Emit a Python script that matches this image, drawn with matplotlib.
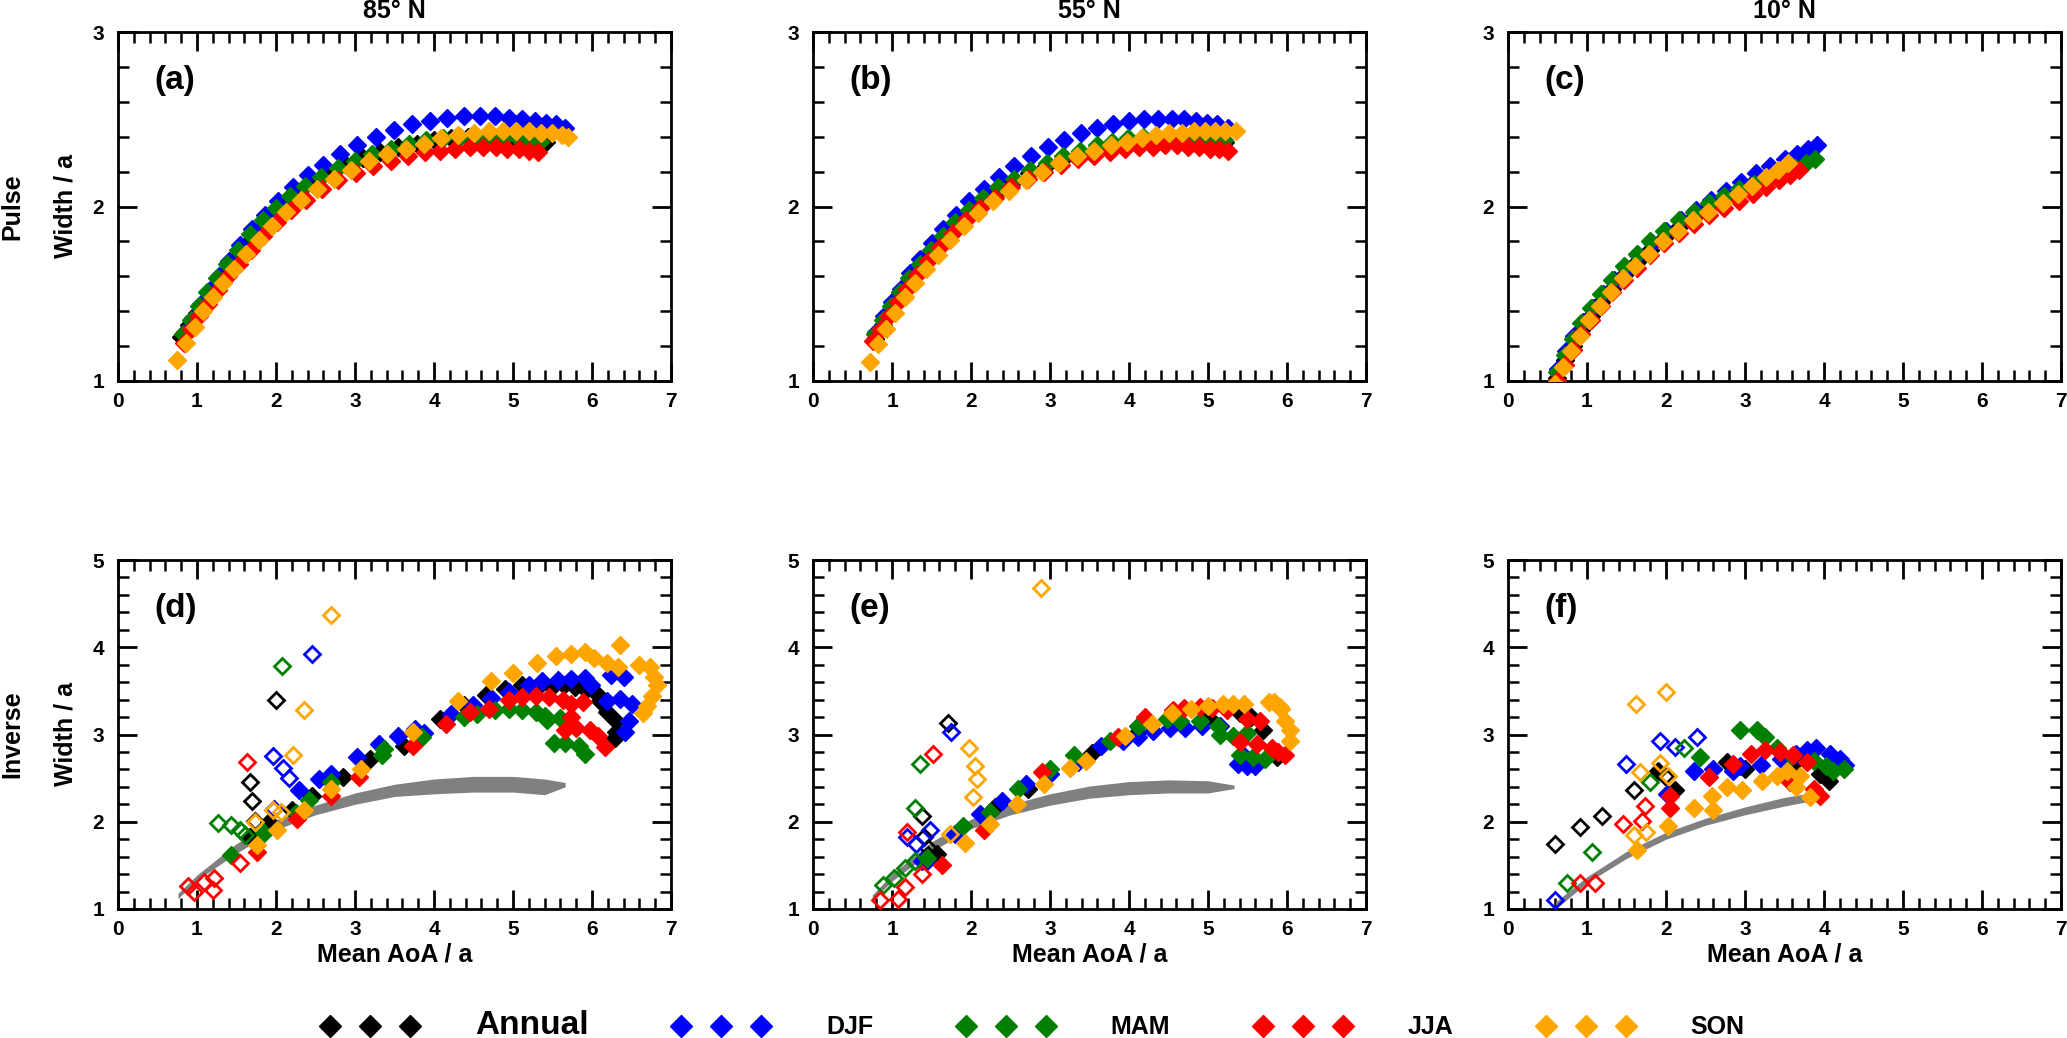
import matplotlib
matplotlib.use("Agg")
import matplotlib.pyplot as plt
from matplotlib.ticker import MultipleLocator
from matplotlib.lines import Line2D

plt.rcParams['font.family'] = ['Liberation Sans', 'DejaVu Sans']
plt.rcParams['font.weight'] = 'bold'

seasons = ['Annual', 'DJF', 'MAM', 'JJA', 'SON']
colors = ['black', '#0000ff', '#008000', '#ff0000', '#ffa500']
titles = ['85° N', '55° N', '10° N']
panel_labels = ['(a)', '(b)', '(c)', '(d)', '(e)', '(f)']
row_labels = ['Pulse', 'Inverse']
xticks = [0, 1, 2, 3, 4, 5, 6, 7]

# ---------------- Pulse, 85N (a) ----------------
a_ann_x = [0.80,0.90,1.00,1.10,1.22,1.35,1.48,1.62,1.77,1.93,2.10,2.28,2.47,2.67,2.88,3.10,3.32,3.55,3.78,4.00,4.22,4.43,4.63,4.82,5.00,5.16,5.30,5.42]
a_ann_y = [1.25,1.32,1.39,1.46,1.54,1.62,1.70,1.78,1.86,1.94,2.01,2.08,2.14,2.19,2.24,2.28,2.31,2.34,2.36,2.38,2.39,2.40,2.40,2.40,2.40,2.39,2.38,2.37]
a_djf_x = [0.85,0.95,1.05,1.16,1.28,1.41,1.55,1.70,1.86,2.03,2.21,2.40,2.60,2.81,3.03,3.26,3.49,3.72,3.95,4.17,4.38,4.58,4.77,4.95,5.12,5.28,5.42,5.55,5.66]
a_djf_y = [1.28,1.36,1.44,1.52,1.60,1.69,1.78,1.87,1.95,2.03,2.11,2.18,2.24,2.30,2.35,2.40,2.44,2.47,2.49,2.51,2.52,2.52,2.52,2.51,2.50,2.49,2.48,2.47,2.45]
a_mam_x = [0.82,0.92,1.02,1.13,1.25,1.38,1.52,1.67,1.83,2.00,2.18,2.37,2.57,2.78,3.00,3.22,3.45,3.68,3.90,4.12,4.33,4.53,4.72,4.90,5.06,5.21,5.34]
a_mam_y = [1.27,1.35,1.43,1.51,1.59,1.67,1.75,1.84,1.92,1.99,2.06,2.12,2.17,2.22,2.26,2.30,2.33,2.36,2.38,2.39,2.40,2.40,2.40,2.40,2.39,2.38,2.37]
a_jja_x = [0.83,0.93,1.03,1.14,1.26,1.39,1.53,1.68,1.84,2.01,2.19,2.38,2.58,2.79,3.01,3.23,3.45,3.67,3.88,4.08,4.27,4.45,4.62,4.78,4.93,5.07,5.20,5.32]
a_jja_y = [1.22,1.30,1.37,1.44,1.52,1.60,1.67,1.75,1.83,1.91,1.98,2.04,2.10,2.15,2.19,2.23,2.26,2.29,2.31,2.32,2.33,2.34,2.34,2.34,2.33,2.33,2.32,2.31]
a_son_x = [0.75,0.86,0.97,1.08,1.20,1.33,1.47,1.62,1.78,1.95,2.13,2.32,2.52,2.73,2.95,3.18,3.41,3.64,3.87,4.09,4.30,4.50,4.69,4.87,5.04,5.20,5.35,5.49,5.62,5.70]
a_son_y = [1.12,1.22,1.31,1.40,1.48,1.56,1.64,1.73,1.81,1.89,1.97,2.04,2.10,2.16,2.21,2.26,2.30,2.33,2.36,2.39,2.41,2.42,2.43,2.43,2.43,2.43,2.42,2.42,2.41,2.40]

# ---------------- Pulse, 55N (b) ----------------
b_ann_x = [0.78,0.88,0.98,1.09,1.21,1.34,1.48,1.63,1.79,1.96,2.14,2.33,2.53,2.74,2.95,3.16,3.37,3.58,3.78,3.98,4.17,4.35,4.52,4.68,4.83,4.97,5.10,5.22]
b_ann_y = [1.24,1.32,1.40,1.48,1.56,1.64,1.72,1.80,1.88,1.95,2.02,2.08,2.14,2.19,2.23,2.27,2.30,2.33,2.35,2.37,2.38,2.39,2.39,2.39,2.39,2.38,2.38,2.37]
b_djf_x = [0.80,0.90,1.00,1.11,1.23,1.36,1.50,1.65,1.81,1.98,2.16,2.35,2.55,2.76,2.97,3.18,3.39,3.60,3.80,4.00,4.19,4.37,4.54,4.70,4.85,4.99,5.12,5.25]
b_djf_y = [1.28,1.37,1.45,1.53,1.62,1.70,1.79,1.87,1.95,2.03,2.10,2.17,2.23,2.29,2.34,2.38,2.42,2.45,2.47,2.49,2.50,2.50,2.50,2.50,2.49,2.48,2.47,2.45]
b_mam_x = [0.79,0.89,0.99,1.10,1.22,1.35,1.49,1.64,1.80,1.97,2.15,2.34,2.54,2.75,2.96,3.17,3.38,3.59,3.79,3.99,4.18,4.36,4.53,4.69,4.84,4.98,5.10,5.20]
b_mam_y = [1.27,1.35,1.43,1.51,1.59,1.67,1.75,1.83,1.91,1.98,2.05,2.11,2.16,2.21,2.25,2.29,2.32,2.35,2.37,2.39,2.40,2.40,2.40,2.40,2.40,2.39,2.39,2.38]
b_jja_x = [0.76,0.86,0.96,1.07,1.19,1.32,1.46,1.61,1.77,1.94,2.12,2.31,2.51,2.72,2.93,3.14,3.35,3.56,3.76,3.95,4.13,4.30,4.46,4.61,4.75,4.89,5.02,5.14,5.25]
b_jja_y = [1.23,1.30,1.37,1.45,1.53,1.61,1.69,1.77,1.85,1.92,1.99,2.05,2.11,2.16,2.20,2.24,2.27,2.29,2.31,2.33,2.34,2.34,2.35,2.35,2.34,2.34,2.33,2.33,2.32]
b_son_x = [0.72,0.82,0.93,1.04,1.16,1.29,1.43,1.58,1.74,1.91,2.09,2.28,2.48,2.69,2.90,3.12,3.34,3.56,3.77,3.97,4.16,4.34,4.51,4.67,4.82,4.96,5.09,5.22,5.35]
b_son_y = [1.11,1.21,1.30,1.39,1.48,1.56,1.64,1.72,1.81,1.89,1.96,2.03,2.09,2.15,2.20,2.25,2.29,2.32,2.35,2.37,2.39,2.41,2.42,2.42,2.43,2.43,2.43,2.43,2.43]

# ---------------- Pulse, 10N (c) ----------------
c_ann_x = [0.62,0.72,0.82,0.93,1.05,1.18,1.32,1.47,1.63,1.80,1.98,2.17,2.36,2.55,2.74,2.93,3.12,3.30,3.47,3.62,3.75]
c_ann_y = [1.02,1.12,1.20,1.29,1.37,1.45,1.53,1.61,1.68,1.75,1.82,1.88,1.94,2.00,2.05,2.10,2.14,2.18,2.22,2.25,2.27]
c_djf_x = [0.63,0.73,0.84,0.95,1.07,1.20,1.34,1.49,1.65,1.82,2.00,2.19,2.38,2.57,2.76,2.95,3.14,3.32,3.50,3.66,3.80,3.91]
c_djf_y = [1.07,1.17,1.26,1.34,1.42,1.50,1.58,1.65,1.72,1.79,1.86,1.92,1.98,2.04,2.09,2.14,2.19,2.23,2.27,2.30,2.33,2.35]
c_mam_x = [0.62,0.72,0.82,0.93,1.05,1.18,1.32,1.47,1.63,1.80,1.98,2.17,2.36,2.55,2.74,2.93,3.12,3.30,3.47,3.63,3.77,3.89]
c_mam_y = [1.05,1.15,1.24,1.33,1.42,1.50,1.58,1.66,1.73,1.80,1.86,1.92,1.97,2.02,2.06,2.10,2.13,2.16,2.19,2.22,2.25,2.27]
c_jja_x = [0.62,0.72,0.82,0.93,1.05,1.18,1.32,1.47,1.63,1.80,1.98,2.17,2.36,2.55,2.74,2.92,3.10,3.27,3.43,3.57,3.68]
c_jja_y = [1.00,1.09,1.18,1.27,1.35,1.43,1.51,1.58,1.65,1.72,1.79,1.85,1.90,1.95,1.99,2.03,2.07,2.11,2.15,2.18,2.21]
c_son_x = [0.60,0.70,0.80,0.91,1.03,1.16,1.30,1.45,1.61,1.78,1.96,2.15,2.34,2.53,2.72,2.91,3.09,3.26,3.42,3.55]
c_son_y = [0.98,1.08,1.17,1.26,1.35,1.43,1.51,1.59,1.66,1.73,1.80,1.86,1.92,1.97,2.02,2.07,2.12,2.17,2.21,2.25]

# ---------------- grey envelope of pulse widths (shown in inverse panels) ----------------
d_band_x = [0.76,1.00,1.50,2.00,2.50,3.00,3.50,4.00,4.50,5.00,5.40,5.66]
d_band_hi = [1.18,1.39,1.75,2.02,2.19,2.33,2.43,2.49,2.52,2.52,2.49,2.45]
d_band_lo = [1.12,1.33,1.64,1.91,2.08,2.20,2.29,2.32,2.34,2.34,2.31,2.40]
e_band_x = [0.75,1.00,1.50,2.00,2.50,3.00,3.50,4.00,4.50,5.00,5.33]
e_band_hi = [1.16,1.40,1.77,2.03,2.20,2.32,2.41,2.46,2.48,2.47,2.42]
e_band_lo = [1.10,1.32,1.66,1.92,2.08,2.19,2.27,2.31,2.33,2.33,2.38]
f_band_x = [0.60,1.00,1.50,2.00,2.50,3.00,3.50,3.90]
f_band_hi = [1.08,1.37,1.66,1.88,2.04,2.17,2.28,2.34]
f_band_lo = [1.00,1.30,1.58,1.80,1.96,2.08,2.18,2.25]

# ---------------- Inverse, 85N (d): filled (f) and open (o) ----------------
d_ann_fx = [1.67,1.91,2.20,2.45,2.85,3.19,3.62,4.07,4.38,4.66,4.90,5.12,5.32,5.49,5.65,5.79,5.93,6.05,6.10,6.19,6.30,6.30,6.29]
d_ann_fy = [1.82,2.00,2.14,2.29,2.51,2.72,2.87,3.18,3.34,3.45,3.52,3.57,3.55,3.55,3.57,3.55,3.51,3.47,3.38,3.26,3.15,3.03,2.96]
d_ann_ox = [2.00,1.67,1.70,1.73]
d_ann_oy = [3.40,2.46,2.24,2.01]
d_djf_fx = [2.29,2.55,2.69,3.03,3.31,3.54,3.76,3.87,4.21,4.49,4.72,4.95,5.20,5.37,5.57,5.74,5.91,5.99,6.19,6.24,6.40,6.36,6.50,6.47,6.42]
d_djf_fy = [2.36,2.49,2.55,2.74,2.89,2.98,3.06,3.02,3.23,3.34,3.42,3.49,3.57,3.61,3.62,3.64,3.65,3.57,3.38,3.68,3.66,3.41,3.35,3.15,3.03]
d_djf_ox = [2.46,1.96,2.09,2.17,1.97]
d_djf_oy = [3.92,2.75,2.62,2.50,2.15]
d_mam_fx = [1.43,1.85,2.25,2.42,2.69,3.34,3.37,3.85,4.38,4.55,4.77,4.95,5.12,5.29,5.40,5.43,5.60,5.52,5.66,5.83,5.91]
d_mam_fy = [1.62,1.87,2.10,2.25,2.46,2.77,2.83,2.97,3.20,3.24,3.28,3.29,3.28,3.26,3.21,3.17,3.19,2.90,2.90,2.87,2.78]
d_mam_ox = [2.08,1.26,1.43,1.55,1.61]
d_mam_oy = [3.78,1.98,1.96,1.90,1.85]
d_jja_fx = [1.76,2.26,2.69,3.05,3.74,4.15,4.46,4.69,4.95,5.12,5.29,5.46,5.63,5.74,5.88,5.74,5.66,5.80,5.97,6.08,6.17]
d_jja_fy = [1.65,2.03,2.30,2.51,2.87,3.12,3.26,3.29,3.39,3.43,3.44,3.43,3.39,3.35,3.37,3.20,3.05,3.07,3.05,2.98,2.86]
d_jja_ox = [1.63,1.54,0.88,0.96,1.09,1.21,1.20]
d_jja_oy = [2.68,1.53,1.26,1.20,1.31,1.36,1.22]
d_son_fx = [1.76,2.01,2.35,2.69,3.08,3.73,4.30,4.72,5.00,5.31,5.54,5.74,5.91,6.02,6.19,6.35,6.33,6.59,6.73,6.79,6.82,6.76,6.70,6.64]
d_son_fy = [1.73,1.90,2.13,2.38,2.61,3.03,3.38,3.61,3.71,3.82,3.90,3.92,3.94,3.88,3.82,4.03,3.77,3.80,3.77,3.66,3.57,3.44,3.33,3.25]
d_son_ox = [2.69,2.35,2.21,1.73,1.96,2.06]
d_son_oy = [4.37,3.28,2.77,2.00,2.13,2.11]

# ---------------- Inverse, 55N (e) ----------------
e_ann_fx = [1.57,2.30,2.72,3.53,4.10,4.60,5.00,5.40,5.55,5.70,5.87]
e_ann_fy = [1.63,2.17,2.38,2.79,3.02,3.15,3.20,3.25,3.20,3.05,2.74]
e_ann_ox = [1.71,1.38,1.40,1.46,1.45]
e_ann_oy = [3.13,2.07,1.82,1.70,1.62]
e_djf_fx = [1.38,1.80,2.11,2.39,2.70,3.00,3.36,3.65,3.93,4.12,4.31,4.52,4.71,4.92,5.15,5.45,5.38,5.49,5.59]
e_djf_fy = [1.55,1.86,2.09,2.24,2.43,2.55,2.68,2.87,2.93,2.97,3.04,3.08,3.08,3.10,3.10,2.75,2.66,2.64,2.64]
e_djf_ox = [1.75,1.19,1.48,1.44,1.30]
e_djf_oy = [3.03,1.82,1.90,1.55,1.75]
e_mam_fx = [1.44,1.90,2.24,2.60,3.00,3.30,3.76,4.12,4.48,4.65,4.90,5.13,5.15,5.32,5.49,5.40,5.57,5.72]
e_mam_fy = [1.59,1.95,2.11,2.38,2.61,2.76,2.93,3.10,3.18,3.16,3.16,3.10,3.00,2.98,3.02,2.76,2.74,2.72]
e_mam_ox = [1.35,1.29,1.29,1.16,1.02,0.88]
e_mam_oy = [2.66,2.16,1.55,1.47,1.36,1.28]
e_jja_fx = [1.63,2.16,2.90,3.86,4.20,4.56,4.70,4.90,5.05,5.24,5.49,5.66,5.40,5.62,5.81,5.89,5.97]
e_jja_fy = [1.51,1.90,2.57,2.97,3.20,3.28,3.30,3.31,3.30,3.28,3.18,3.16,2.91,2.89,2.85,2.80,2.76]
e_jja_ox = [1.52,1.19,1.38,1.17,1.08,0.85]
e_jja_oy = [2.78,1.88,1.40,1.25,1.11,1.10]
e_son_fx = [1.92,2.24,2.58,2.92,3.25,3.46,3.95,4.29,4.54,4.79,5.00,5.19,5.32,5.45,5.77,5.83,5.92,5.91,5.97,6.04,6.04]
e_son_fy = [1.76,1.97,2.20,2.43,2.62,2.70,2.98,3.12,3.25,3.29,3.33,3.35,3.35,3.35,3.37,3.37,3.29,3.31,3.16,3.05,2.93]
e_son_ox = [2.88,1.98,2.05,2.08,2.03,1.73]
e_son_oy = [4.68,2.84,2.64,2.49,2.28,1.86]

# ---------------- Inverse, 10N (f) ----------------
f_ann_fx = [1.90,2.11,2.77,3.00,3.60,3.95,4.06]
f_ann_fy = [2.58,2.36,2.68,2.60,2.65,2.55,2.47]
f_ann_ox = [1.99,1.59,1.19,0.91,0.60]
f_ann_oy = [2.52,2.36,2.07,1.94,1.75]
f_djf_fx = [2.01,2.35,2.60,2.85,2.94,3.20,3.45,3.65,3.78,3.90,4.08,4.20,4.27]
f_djf_fy = [2.32,2.58,2.60,2.58,2.64,2.65,2.72,2.78,2.82,2.84,2.78,2.72,2.65]
f_djf_ox = [2.39,1.92,2.12,1.49,0.60]
f_djf_oy = [2.97,2.92,2.86,2.66,1.10]
f_mam_fx = [2.43,2.94,3.15,3.25,3.40,3.60,3.87,4.03,4.12,4.25]
f_mam_fy = [2.74,3.05,3.05,2.97,2.85,2.75,2.70,2.64,2.58,2.60]
f_mam_ox = [2.23,1.80,1.06,0.75]
f_mam_oy = [2.84,2.45,1.65,1.30]
f_jja_fx = [2.05,2.05,2.54,2.85,3.07,3.25,3.44,3.61,3.78,3.57,3.87,3.95]
f_jja_fy = [2.30,2.16,2.51,2.66,2.78,2.82,2.80,2.76,2.68,2.45,2.37,2.30]
f_jja_ox = [1.73,1.46,1.69,0.91,1.10]
f_jja_oy = [2.18,1.97,2.01,1.30,1.30]
f_son_fx = [1.63,2.03,2.35,2.60,2.58,2.77,2.96,3.21,3.40,3.53,3.70,3.65,3.82]
f_son_fy = [1.68,1.95,2.16,2.14,2.30,2.40,2.36,2.47,2.53,2.58,2.53,2.40,2.28]
f_son_ox = [2.00,1.62,1.93,1.67,2.03,1.59,1.75]
f_son_oy = [3.49,3.35,2.67,2.57,2.52,1.85,1.88]

pulse = [
    [(a_ann_x, a_ann_y), (a_djf_x, a_djf_y), (a_mam_x, a_mam_y), (a_jja_x, a_jja_y), (a_son_x, a_son_y)],
    [(b_ann_x, b_ann_y), (b_djf_x, b_djf_y), (b_mam_x, b_mam_y), (b_jja_x, b_jja_y), (b_son_x, b_son_y)],
    [(c_ann_x, c_ann_y), (c_djf_x, c_djf_y), (c_mam_x, c_mam_y), (c_jja_x, c_jja_y), (c_son_x, c_son_y)],
]
bands = [(d_band_x, d_band_lo, d_band_hi), (e_band_x, e_band_lo, e_band_hi), (f_band_x, f_band_lo, f_band_hi)]
inverse = [
    [(d_ann_fx, d_ann_fy, d_ann_ox, d_ann_oy), (d_djf_fx, d_djf_fy, d_djf_ox, d_djf_oy),
     (d_mam_fx, d_mam_fy, d_mam_ox, d_mam_oy), (d_jja_fx, d_jja_fy, d_jja_ox, d_jja_oy),
     (d_son_fx, d_son_fy, d_son_ox, d_son_oy)],
    [(e_ann_fx, e_ann_fy, e_ann_ox, e_ann_oy), (e_djf_fx, e_djf_fy, e_djf_ox, e_djf_oy),
     (e_mam_fx, e_mam_fy, e_mam_ox, e_mam_oy), (e_jja_fx, e_jja_fy, e_jja_ox, e_jja_oy),
     (e_son_fx, e_son_fy, e_son_ox, e_son_oy)],
    [(f_ann_fx, f_ann_fy, f_ann_ox, f_ann_oy), (f_djf_fx, f_djf_fy, f_djf_ox, f_djf_oy),
     (f_mam_fx, f_mam_fy, f_mam_ox, f_mam_oy), (f_jja_fx, f_jja_fy, f_jja_ox, f_jja_oy),
     (f_son_fx, f_son_fy, f_son_ox, f_son_oy)],
]

W, H = 2067, 1038
fig = plt.figure(figsize=(W / 100, H / 100), dpi=100)

col_left = [118, 813, 1508]
pw, ph = 553, 349
row_top = [32, 560]

MS_F = 9.3
MS_O = 8.6


def style_axis(ax, ymax):
    ax.set_xlim(0, 7)
    ax.set_ylim(1, ymax)
    ax.set_xticks(xticks)
    ax.set_yticks(list(range(1, ymax + 1)))
    ax.xaxis.set_minor_locator(MultipleLocator(0.2))
    ax.yaxis.set_minor_locator(MultipleLocator(0.2))
    ax.tick_params(which='both', direction='in', top=True, right=True, labelsize=15)
    ax.tick_params(axis='x', which='both', pad=8)
    ax.tick_params(axis='y', which='both', pad=10)
    ax.tick_params(which='major', length=13.5, width=2)
    ax.tick_params(which='minor', length=8, width=1.8)
    for sp in ax.spines.values():
        sp.set_linewidth(2)
    for lab in ax.get_xticklabels() + ax.get_yticklabels():
        lab.set_fontweight('bold')


axes = []
for r in range(2):
    for c in range(3):
        l = col_left[c] / W
        b = 1 - (row_top[r] + ph) / H
        ax = fig.add_axes([l, b, pw / W, ph / H])
        axes.append(ax)
        if r == 0:
            for s in range(5):
                x, y = pulse[c][s]
                ax.plot(x, y, linestyle='none', marker='D', ms=MS_F, mfc=colors[s],
                        mec=colors[s], mew=1.0, zorder=3 + s)
            style_axis(ax, 3)
            ax.set_title(titles[c], fontsize=18, fontweight='bold', pad=10)
        else:
            bx, blo, bhi = bands[c]
            ax.fill_between(bx, blo, bhi, color='#808080', linewidth=0, zorder=2)
            for s in range(5):
                fx, fy, ox, oy = inverse[c][s]
                ax.plot(ox, oy, linestyle='none', marker='D', ms=MS_O, mfc='none',
                        mec=colors[s], mew=2.0, zorder=3 + s)
                ax.plot(fx, fy, linestyle='none', marker='D', ms=MS_F, mfc=colors[s],
                        mec=colors[s], mew=1.0, zorder=3 + s)
            style_axis(ax, 5)
            ax.set_xlabel('Mean AoA / a', fontsize=18, fontweight='bold')
            ax.xaxis.set_label_coords(0.5, -0.095)
        ax.text(0.065, 0.862, panel_labels[r * 3 + c], transform=ax.transAxes,
                fontsize=24, fontweight='bold', ha='left', va='center')
        if c == 0:
            ax.set_ylabel('Width / a', fontsize=18, fontweight='bold')
            ax.yaxis.set_label_coords(-0.074, 0.5)
            fig.text(12 / W, 1 - (row_top[r] + ph / 2) / H, row_labels[r], rotation=90,
                     fontsize=18, fontweight='bold', ha='center', va='center')

handles = [Line2D([], [], linestyle='none', marker='D', ms=11, mfc=col, mec=col)
           for col in colors]
leg = fig.legend(handles, seasons, loc='center', bbox_to_anchor=(0.5, 1 - 1026 / H),
                 ncol=5, numpoints=3, frameon=False, fontsize=18, handlelength=3.8,
                 handletextpad=2.3, columnspacing=3.4, borderpad=0, borderaxespad=0)
for i, t in enumerate(leg.get_texts()):
    t.set_fontweight('bold')
    if i == 0:
        t.set_fontsize(24)

fig.savefig('out.png', dpi=100)
